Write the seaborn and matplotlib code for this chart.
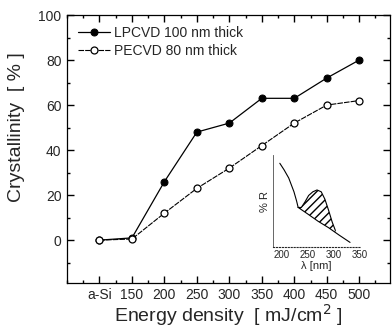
import numpy as np
import pandas as pd
import matplotlib
matplotlib.use("Agg")
import matplotlib.pyplot as plt
from matplotlib.ticker import MultipleLocator
import seaborn as sns

# Data
categories = ["a-Si", "150", "200", "250", "300", "350", "400", "450", "500"]
lpcvd = [0, 1, 26, 48, 52, 63, 63, 72, 80]
pecvd = [0, 0.5, 12, 23, 32, 42, 52, 60, 62]

# inset reflectance sketch (arbitrary units)
inset_wl = [197, 205, 214, 224, 229, 232]
inset_r = [9.1, 8.4, 7.5, 6.0, 5.0, 4.3]
base_wl = [232, 250, 270, 290, 310, 331]
base_r = [4.3, 3.6, 2.8, 2.1, 1.3, 0.5]
bump_wl = [232, 238, 245, 252, 260, 268, 276, 283, 290, 297, 303]
bump_r = [4.3, 4.3, 4.9, 5.6, 6.0, 6.2, 6.0, 5.2, 4.0, 2.7, 1.8]
inset_ticks = [200, 250, 300, 350]

sns.set_style("ticks", {"xtick.direction": "in", "ytick.direction": "in"})
plt.rcParams["font.family"] = ["Liberation Sans", "DejaVu Sans"]

fig = plt.figure(figsize=(3.92, 3.34), dpi=100)
ax = fig.add_axes([0.171, 0.153, 0.824, 0.802])

df = pd.DataFrame({"pos": np.arange(len(categories)), "lp": lpcvd, "pe": pecvd})

sns.lineplot(data=df, x="pos", y="lp", ax=ax, color="black", lw=0.9,
             marker="o", markersize=5, markerfacecolor="black",
             markeredgecolor="black", label="LPCVD 100 nm thick")
sns.lineplot(data=df, x="pos", y="pe", ax=ax, color="black", lw=0.8,
             linestyle=(0, (5, 1)), marker="o", markersize=5,
             markerfacecolor="white", markeredgecolor="black",
             markeredgewidth=0.9, label="PECVD 80 nm thick")

ax.set_xlim(-1, 8.95)
ax.set_ylim(-19, 100)
ax.set_xticks(np.arange(len(categories)))
ax.set_xticklabels(categories)
ax.xaxis.set_minor_locator(MultipleLocator(0.5))
ax.yaxis.set_major_locator(MultipleLocator(20))
ax.yaxis.set_minor_locator(MultipleLocator(10))
ax.tick_params(which="both", direction="in", top=True, right=True,
               bottom=True, left=True, labelsize=10, width=1,
               color="black", pad=4)
ax.tick_params(which="major", length=5)
ax.tick_params(which="minor", length=2.5)
for s in ax.spines.values():
    s.set_linewidth(0.9)
    s.set_color("black")

ax.set_xlabel("Energy density  [ mJ/cm$^2$ ]", fontsize=14, labelpad=0)
ax.set_ylabel("Crystallinity  [ % ]", fontsize=14)
ax.yaxis.set_label_coords(-0.13, 0.58)

ax.legend(loc="upper left", frameon=False, fontsize=10, handlelength=2.3,
          handletextpad=0.3, borderaxespad=0.6, borderpad=0.2,
          labelspacing=0.3)

# inset
ins = fig.add_axes([273 / 392, 1 - 247 / 334, 87 / 392, 92 / 334])
ins.patch.set_alpha(0)
ins.plot(inset_wl, inset_r, color="black", lw=0.8)
ins.plot(base_wl, base_r, color="black", lw=0.8)
ins.plot(bump_wl, bump_r, color="black", lw=0.8)
ins.fill_between(bump_wl, np.interp(bump_wl, base_wl, base_r), bump_r,
                 facecolor="none", edgecolor="black", hatch="////", lw=0)
ins.set_xlim(184, 345)
ins.set_ylim(0, 10)
ins.set_xticks(inset_ticks)
ins.set_yticks([])
ins.tick_params(axis="x", length=0, labelsize=7, pad=2)
ins.spines["top"].set_visible(False)
ins.spines["right"].set_visible(False)
ins.spines["left"].set_linewidth(0.6)
ins.spines["left"].set_color("0.3")
ins.spines["bottom"].set_linewidth(0.8)
ins.spines["bottom"].set_linestyle(":")
ins.set_xlabel("λ [nm]", fontsize=8, labelpad=1)
ins.set_ylabel("% R", fontsize=8, labelpad=2)

fig.savefig("out.png", dpi=100)
